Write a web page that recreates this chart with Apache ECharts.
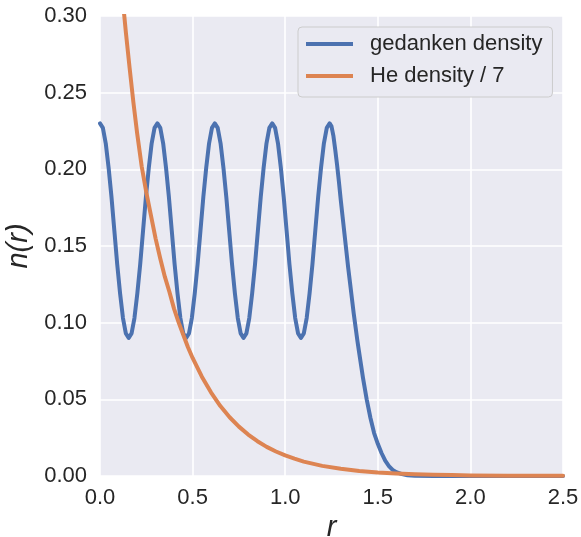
<!DOCTYPE html>
<html>
<head>
<meta charset="utf-8">
<script src="https://cdn.jsdelivr.net/npm/echarts@6/dist/echarts.min.js"></script>
<style>
html,body{margin:0;padding:0;background:#fff;overflow:hidden;}
#chart{width:581px;height:537px;}
</style>
</head>
<body>
<div id="chart"></div>
<script>
// ---- data ----
const seriesNames = ["gedanken density", "He density / 7"];

const rGedanken = [
  0.000,0.0155,0.031,0.0465,0.062,0.0775,0.093,0.1085,0.124,0.1395,
  0.155,0.1705,0.186,0.2015,0.217,0.2325,0.248,0.2635,0.279,0.2945,
  0.310,0.3255,0.341,0.3565,0.372,0.3875,0.403,0.4185,0.434,0.4495,
  0.465,0.4805,0.496,0.5115,0.527,0.5425,0.558,0.5735,0.589,0.6045,
  0.620,0.6355,0.651,0.6665,0.682,0.6975,0.713,0.7285,0.744,0.7595,
  0.775,0.7905,0.806,0.8215,0.837,0.8525,0.868,0.8835,0.899,0.9145,
  0.930,0.9455,0.961,0.9765,0.992,1.0075,1.023,1.0385,1.054,1.0695,
  1.085,1.1005,1.116,1.1315,1.147,1.1625,1.178,1.1935,1.209,1.2245,
  1.240,1.25,1.26,1.27,1.28,1.29,1.30,1.31,1.32,1.33,
  1.34,1.35,1.36,1.37,1.38,1.39,1.40,1.41,1.42,1.43,
  1.44,1.46,1.48,1.50,1.52,1.54,1.56,1.58,1.60,1.63,
  1.66,1.70,1.80,2.00,2.50
];
const nGedanken = [
  0.230,0.227,0.217,0.201,0.182,0.160,0.138,0.119,0.103,0.093,
  0.090,0.093,0.103,0.119,0.138,0.160,0.182,0.201,0.217,0.227,
  0.230,0.227,0.217,0.201,0.182,0.160,0.138,0.119,0.103,0.093,
  0.090,0.093,0.103,0.119,0.138,0.160,0.182,0.201,0.217,0.227,
  0.230,0.227,0.217,0.201,0.182,0.160,0.138,0.119,0.103,0.093,
  0.090,0.093,0.103,0.119,0.138,0.160,0.182,0.201,0.217,0.227,
  0.230,0.227,0.217,0.201,0.182,0.160,0.138,0.119,0.103,0.093,
  0.090,0.093,0.103,0.119,0.138,0.160,0.182,0.201,0.217,0.227,
  0.230,0.228,0.222,0.213,0.203,0.192,0.180,0.169,0.158,0.147,
  0.136,0.126,0.116,0.106,0.097,0.088,0.080,0.072,0.064,0.057,
  0.050,0.038,0.028,0.021,0.015,0.010,0.0065,0.004,0.0025,0.0012,
  0.0005,0.0002,0.0,0.0,0.0
];

const rHe = [
  0.08,0.10,0.12,0.14,0.16,0.18,0.20,0.225,0.25,0.275,
  0.30,0.325,0.35,0.375,0.40,0.425,0.45,0.475,0.50,0.55,
  0.60,0.65,0.70,0.75,0.80,0.85,0.90,0.95,1.00,1.05,
  1.10,1.20,1.30,1.40,1.50,1.60,1.70,1.80,1.90,2.00,
  2.20,2.50
];
const nHe = [
  0.372,0.342,0.314,0.289,0.266,0.244,0.224,0.202,0.185,0.170,
  0.155,0.142,0.130,0.120,0.109,0.100,0.092,0.084,0.077,0.0648,
  0.0544,0.0456,0.0383,0.0322,0.0270,0.0227,0.0190,0.0160,0.0134,0.0113,
  0.0094,0.0066,0.0047,0.0033,0.0023,0.0016,0.0011,0.0008,0.0006,0.0004,
  0.0002,0.0001
];

const xTicks = [0.0, 0.5, 1.0, 1.5, 2.0, 2.5];
const yTicks = [0.00, 0.05, 0.10, 0.15, 0.20, 0.25, 0.30];

// ---- chart ----
const FONT = "'Liberation Sans', Arial, sans-serif";
const TXT = "#262626";
const chart = echarts.init(document.getElementById('chart'), null, {renderer: 'canvas', width: 581, height: 537});

const zip = (xs, ys) => xs.map((x, i) => [x, ys[i]]);

chart.setOption({
  animation: false,
  backgroundColor: '#ffffff',
  grid: {
    left: 100, top: 16, width: 463, height: 460,
    containLabel: false, outerBoundsMode: 'none',
    show: true, backgroundColor: '#EAEAF2', borderWidth: 0
  },
  legend: {
    orient: 'vertical',
    left: 298, top: 27,
    icon: 'rect',
    itemWidth: 47, itemHeight: 4,
    itemGap: 10,
    padding: [6, 10, 10, 8],
    backgroundColor: '#EAEAF2',
    borderColor: '#CCCCCC', borderWidth: 1, borderRadius: 4,
    textStyle: { fontFamily: FONT, fontSize: 22, color: TXT, lineHeight: 22, padding: [0, 0, 0, 12] },
    data: seriesNames
  },
  xAxis: {
    type: 'value',
    min: xTicks[0], max: xTicks[xTicks.length - 1], interval: 0.5,
    name: 'r', nameLocation: 'middle', nameGap: 30,
    nameTextStyle: { fontFamily: FONT, fontSize: 29, fontStyle: 'italic', color: TXT },
    axisLine: { show: false }, axisTick: { show: false },
    axisLabel: { fontFamily: FONT, fontSize: 22, color: TXT, margin: 11,
      formatter: v => v.toFixed(1) },
    splitLine: { show: true, lineStyle: { color: '#ffffff', width: 1.6 } }
  },
  yAxis: {
    type: 'value',
    min: yTicks[0], max: yTicks[yTicks.length - 1], interval: 0.05,
    name: 'n(r)', nameLocation: 'middle', nameGap: 64, nameRotate: 90,
    nameTextStyle: { fontFamily: FONT, fontSize: 29, fontStyle: 'italic', color: TXT },
    axisLine: { show: false }, axisTick: { show: false },
    axisLabel: { fontFamily: FONT, fontSize: 22, color: TXT, margin: 13,
      formatter: v => v.toFixed(2) },
    splitLine: { show: true, lineStyle: { color: '#ffffff', width: 1.6 } }
  },
  series: [
    {
      name: seriesNames[0], type: 'line', data: zip(rGedanken, nGedanken),
      showSymbol: false, symbol: 'none', smooth: false, clip: true,
      lineStyle: { color: '#4C72B0', width: 4, join: 'round', cap: 'round' }, itemStyle: { color: '#4C72B0' }
    },
    {
      name: seriesNames[1], type: 'line', data: zip(rHe, nHe),
      showSymbol: false, symbol: 'none', smooth: false, clip: true,
      lineStyle: { color: '#DD8452', width: 4, join: 'round', cap: 'round' }, itemStyle: { color: '#DD8452' }
    }
  ]
});
</script>
</body>
</html>
